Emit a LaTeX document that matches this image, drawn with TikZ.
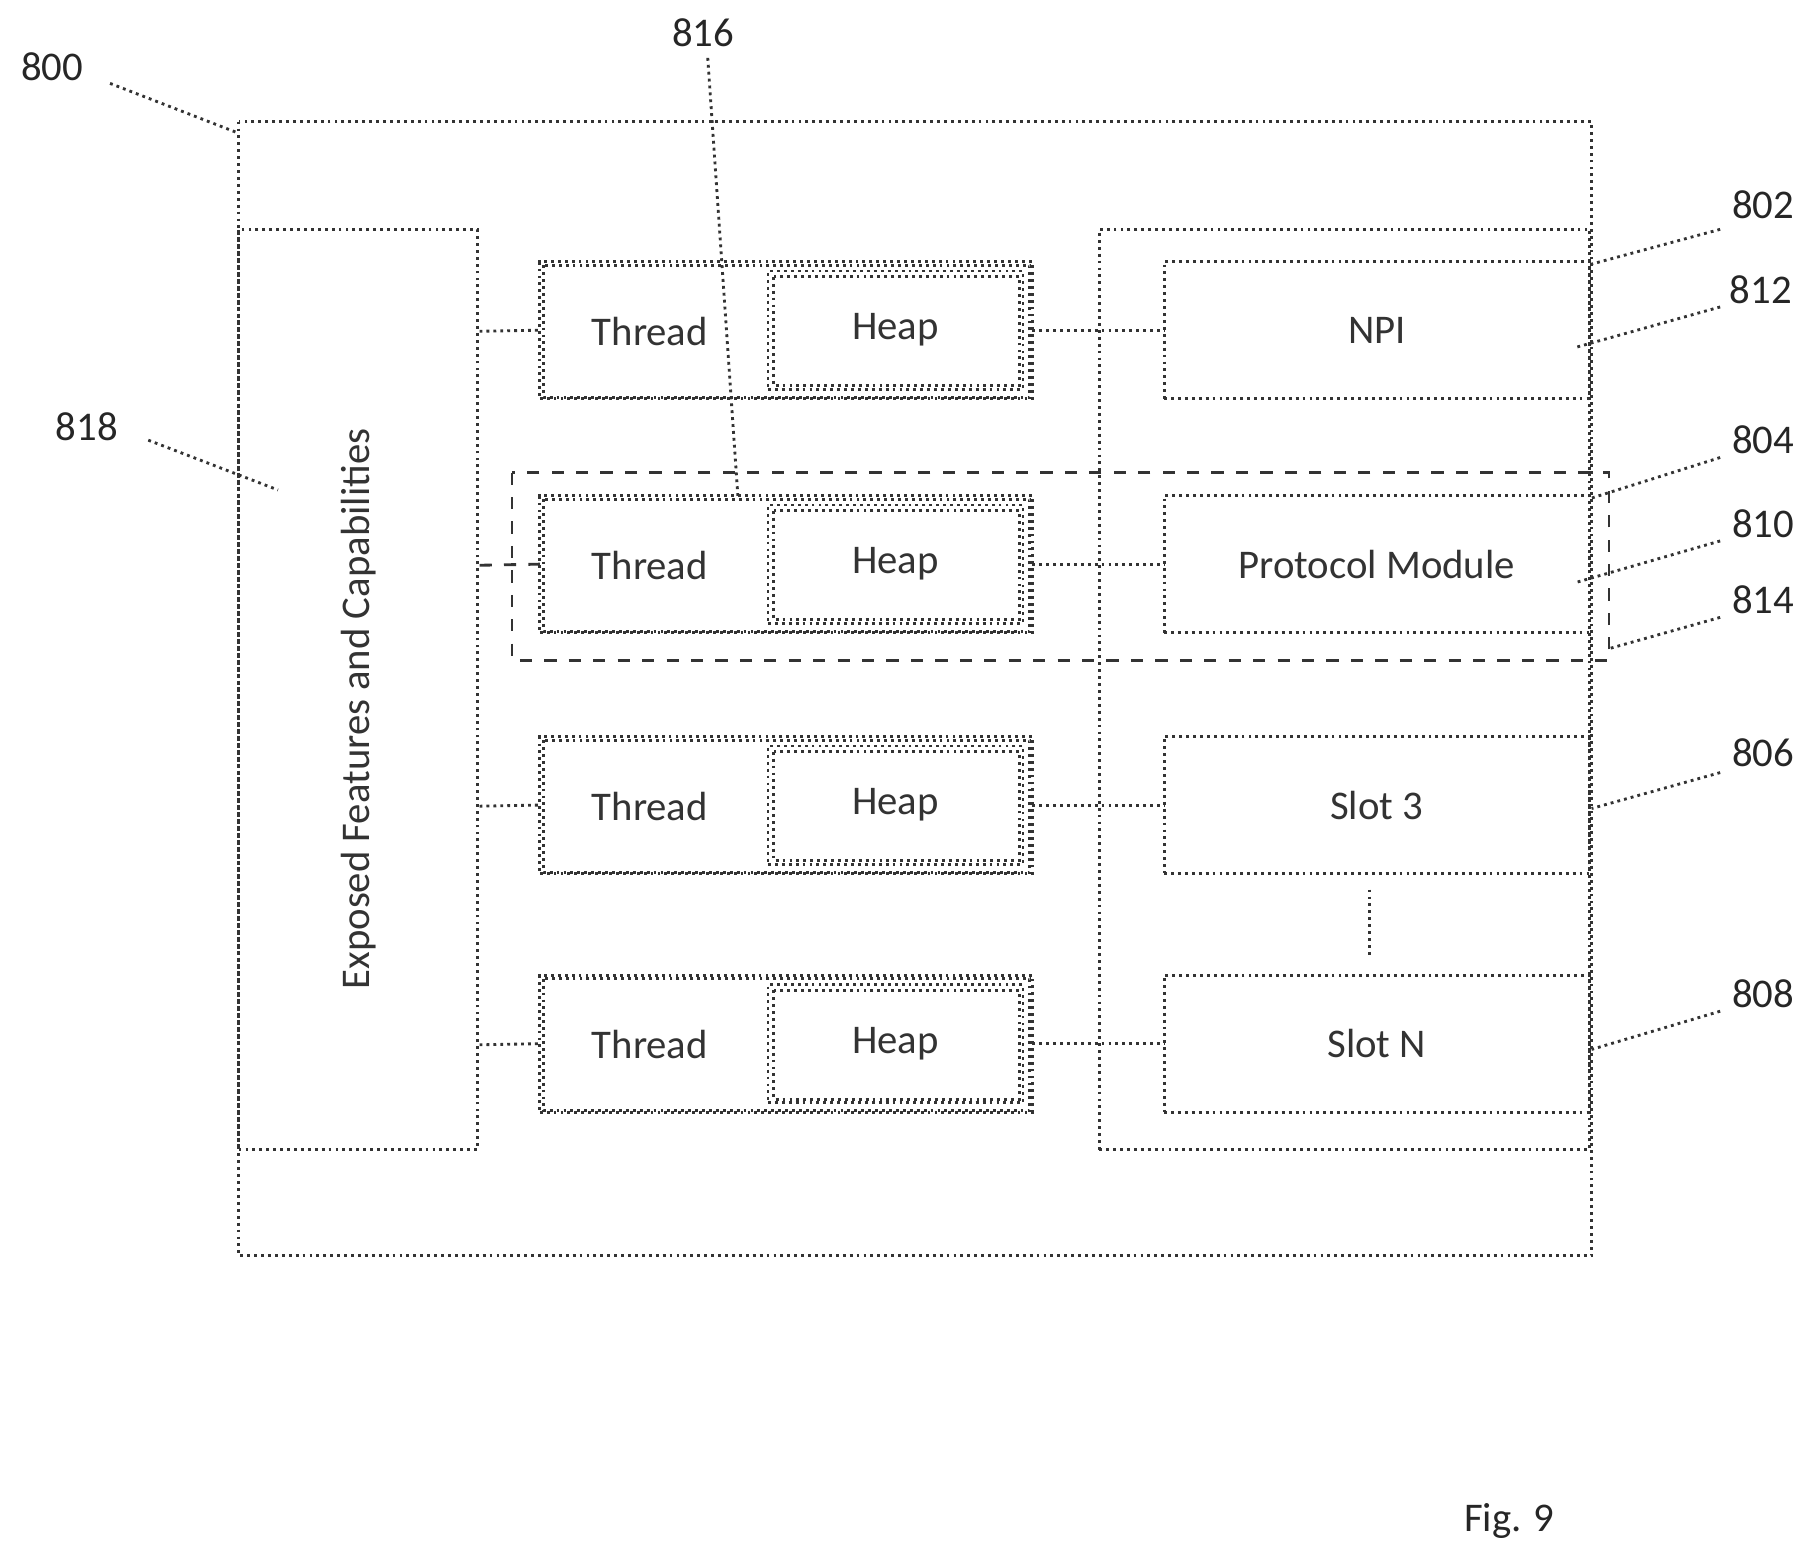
\documentclass[tikz,border=0pt]{standalone}
\usepackage{fontspec}
\setmainfont{Carlito}
\begin{document}
\begin{tikzpicture}[x=0.01cm,y=-0.01cm,
  ln/.style={densely dotted,line width=0.7pt,draw=black!80},
  bx/.style={ln,draw,inner sep=0,outer sep=0},
  txt/.style={font=\fontsize{10}{12}\selectfont,text=black!80},
  lab/.style={font=\fontsize{10}{12}\selectfont,text=black!85}]
\useasboundingbox (0,0) rectangle (1560,1343);
\draw[ln] (206,105) rectangle (1374,1084);
\node[bx,minimum width=2.06cm,minimum height=7.94cm,anchor=north west] (efc) at (206,198) {};
\node[txt,rotate=90] at (310,612) {Exposed Features and Capabilities};
\node[bx,minimum width=4.23cm,minimum height=7.94cm,anchor=north west] (gw) at (949,198) {};
\draw[dashed,line width=0.7pt,draw=black!80] (442,408) rectangle (1389,570);
\foreach \n/\y/\t in {1/226/NPI,2/428/Protocol Module,3/636/Slot 3,4/842/Slot N}{
  \node[bx,minimum width=4.25cm,minimum height=1.18cm,anchor=north west] (th\n) at (466,\y) {};
  \draw[ln] (469,\y+3) rectangle (889,\y+117);
  \node[bx,minimum width=2.2cm,minimum height=1.02cm,anchor=north west] (hp\n) at (663,\y+8) {};
  \draw[ln] (668,\y+13) rectangle (880,\y+107);
  \node[txt] at (561,\y+60) {Thread};
  \node[txt] at (hp\n) {Heap};
  \node[bx,minimum width=3.67cm,minimum height=1.18cm,anchor=north west,txt] (r\n) at (1005,\y) {\t};
  \draw[ln] (th\n.east) -- (r\n.west);
}
\draw[ln] (414,286) -- (th1.west);
\draw[dashed,line width=0.7pt,draw=black!80] (414,488) -- (th2.west);
\draw[ln] (414,696) -- (th3.west);
\draw[ln] (414,902) -- (th4.west);
\draw[ln] (1182,768) -- (1182,826);
\node[lab] (l800) at (45,58) {800}; \draw[ln] (95,72) -- (206,115);
\node[lab] (l818) at (75,368) {818}; \draw[ln] (128,380) -- (240,423);
\node[lab] (l816) at (607,28) {816}; \draw[ln] (611,50) -- (637,428);
\node[lab] (l802) at (1522,177) {802}; \draw[ln] (1485,198) -- (1374,228);
\node[lab] (l812) at (1520,250) {812}; \draw[ln] (1485,265) -- (1360,300);
\node[lab] (l804) at (1522,380) {804}; \draw[ln] (1485,395) -- (1374,430);
\node[lab] (l810) at (1522,452) {810}; \draw[ln] (1485,467) -- (1360,503);
\node[lab] (l814) at (1522,518) {814}; \draw[ln] (1485,533) -- (1389,560);
\node[lab] (l806) at (1522,650) {806}; \draw[ln] (1485,667) -- (1374,698);
\node[lab] (l808) at (1522,858) {808}; \draw[ln] (1485,873) -- (1374,906);
\node[lab] (fig) at (1303,1313) {Fig. 9};
\end{tikzpicture}
\end{document}
